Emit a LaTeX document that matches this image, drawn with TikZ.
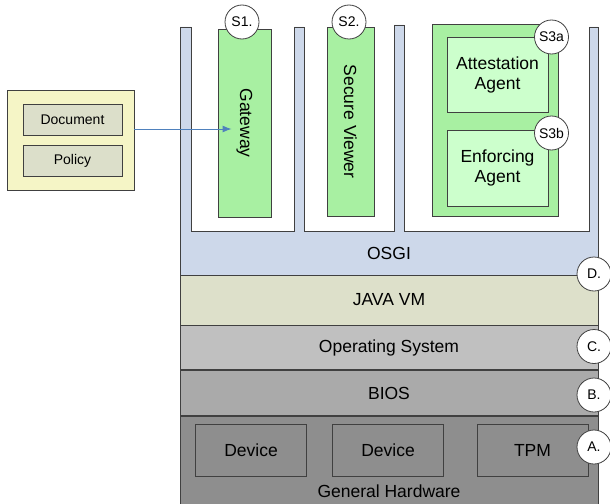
\documentclass[tikz,border=0pt]{standalone}
\usepackage{fontspec}
\setmainfont{Liberation Sans}
\usetikzlibrary{positioning,arrows.meta}

\definecolor{osgiblue}{HTML}{CDD8EA}
\definecolor{jvmgreen}{HTML}{DDE0CA}
\definecolor{osgray}{HTML}{C0C0C0}
\definecolor{biosgray}{HTML}{AAAAAA}
\definecolor{hwgray}{HTML}{8E8E8E}
\definecolor{bundlegreen}{HTML}{A8F0A2}
\definecolor{agentgreen}{HTML}{CCFFCC}
\definecolor{storeyellow}{HTML}{F5F5C6}
\definecolor{itemgray}{HTML}{DCDFCA}
\definecolor{linkblue}{HTML}{4F81BD}
\definecolor{edgegray}{HTML}{404040}

\begin{document}
\begin{tikzpicture}[
  x=1pt, y=-1pt,
  every node/.style={font=\fontsize{17.5}{20}\selectfont,align=center,inner sep=0pt},
  layer/.style={draw=edgegray,line width=0.9pt,minimum width=418pt},
  device/.style={draw=edgegray,line width=0.9pt,fill=hwgray,minimum width=111pt,minimum height=52pt},
  bundle/.style={draw=edgegray,line width=0.9pt,fill=bundlegreen},
  agent/.style={draw=edgegray,line width=0.9pt,fill=agentgreen,minimum width=101pt},
  item/.style={draw=edgegray,line width=0.9pt,fill=itemgray,minimum width=99pt,minimum height=31pt,
    font=\fontsize{14}{16}\selectfont},
  tag/.style={circle,draw=edgegray,line width=0.8pt,fill=white,minimum size=34pt,
    font=\fontsize{14}{16}\selectfont},
  link/.style={draw=linkblue,line width=0.9pt,-{Latex[length=9pt,width=7pt]}}
  ]
\useasboundingbox (0,0) rectangle (610,503);

% OSGi framework with its bundle slots
\fill[osgiblue] (180,27) -- (191,27) -- (191,231) -- (294,231) -- (294,27) -- (304,27)
  -- (304,231) -- (394,231) -- (394,25) -- (404,25) -- (404,231) -- (589,231)
  -- (589,27) -- (598,27) -- (598,275) -- (180,275) -- cycle;
\draw[edgegray,line width=0.8pt] (180,275) -- (180,27) -- (191,27) -- (191,231) -- (294,231)
  -- (294,27) -- (304,27) -- (304,231) -- (394,231) -- (394,25) -- (404,25) -- (404,231)
  -- (589,231) -- (589,27) -- (598,27) -- (598,275);
\node (osgi) at (389,253) {OSGI};

% platform stack
\node[layer,fill=jvmgreen,minimum height=50pt] (jvm) at (389,300) {JAVA VM};
\node[layer,fill=osgray,minimum height=44pt,below=0pt of jvm] (os) {Operating System};
\node[layer,fill=biosgray,minimum height=45pt,below=0pt of os] (bios) {BIOS};
\node[layer,fill=hwgray,minimum height=89pt,below=0pt of bios] (hw) {};
\node[device] (dev1) at (251,450) {Device};
\node[device] (dev2) at (388,450) {Device};
\node[device] (tpm) at (532.5,450) {TPM};
\node (hwname) at (389,491.5) {General Hardware};

% bundles
\node[bundle,minimum width=53pt,minimum height=188pt] (gw) at (244.5,123) {};
\node[rotate=-90] (gwname) at (gw) {Gateway};
\node[bundle,minimum width=47pt,minimum height=189pt] (viewer) at (350.5,121.5) {};
\node[rotate=-90] (viewername) at (viewer) {Secure Viewer};
\node[bundle,minimum width=126pt,minimum height=192pt] (trust) at (495,120) {};
\node[agent,minimum height=75pt] (att) at (497.5,74.5) {Attestation\\Agent};
\node[agent,minimum height=76pt] (enf) at (497.5,168) {Enforcing\\Agent};

% incoming package
\node[draw=edgegray,line width=0.9pt,fill=storeyellow,minimum width=127pt,minimum height=100pt]
  (store) at (70.5,140) {};
\node[item] (doc) at (72.5,119.5) {Document};
\node[item] (policy) at (72.5,160.5) {Policy};
\draw[link] ([yshift=11pt]store.east) -- ([xshift=14pt,yshift=-6pt]gw.west);

% markers
\node[tag] (s1) at (242,22) {S1.};
\node[tag] (s2) at (349,22) {S2.};
\node[tag] (s3a) at (551.5,37) {S3a};
\node[tag] (s3b) at (551.5,133) {S3b};
\node[tag] (d) at (594,274) {D.};
\node[tag] (c) at (594,346.5) {C.};
\node[tag] (b) at (594,395) {B.};
\node[tag] (a) at (594,447) {A.};

\end{tikzpicture}
\end{document}
